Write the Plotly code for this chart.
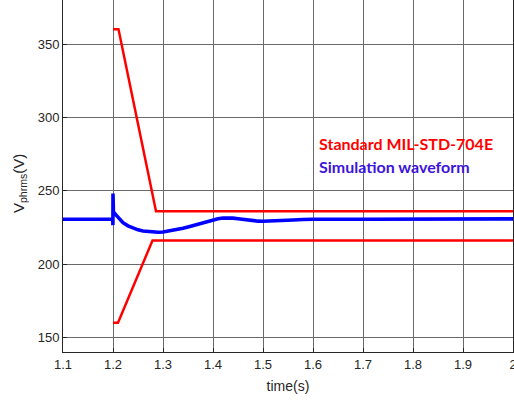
import plotly.graph_objects as go

# Standard MIL-STD-704E limits
upper_t = [1.2, 1.211, 1.286, 2.0]
upper_v = [360, 360, 236, 236]
lower_t = [1.2, 1.21, 1.279, 2.0]
lower_v = [160, 160, 216, 216]

# Simulation waveform
sim_t = [1.1, 1.1995, 1.1998, 1.2, 1.2002, 1.2004, 1.2008, 1.205, 1.21, 1.215, 1.22, 1.23,
         1.24, 1.25, 1.26, 1.27, 1.28, 1.29, 1.30, 1.31, 1.32, 1.33, 1.34, 1.35, 1.36,
         1.37, 1.38, 1.39, 1.40, 1.41, 1.42, 1.43, 1.44, 1.45, 1.46, 1.47, 1.48, 1.49,
         1.50, 1.52, 1.54, 1.56, 1.58, 1.60, 1.70, 1.80, 1.90, 2.0]
sim_v = [230.5, 230.5, 226.5, 248, 229, 236, 235.6, 233.8, 231.8, 229.8, 228.2, 226.0,
         224.4, 223.3, 222.5, 222.0, 221.7, 221.6, 221.8, 222.3, 222.9, 223.6, 224.4, 225.3, 226.3,
         227.3, 228.3, 229.3, 230.2, 230.9, 231.4, 231.5, 231.3, 230.9, 230.4, 229.9, 229.5, 229.2,
         229.1, 229.2, 229.6, 230.0, 230.3, 230.5, 230.5, 230.6, 230.7, 230.8]

x_ticks = [1.1, 1.2, 1.3, 1.4, 1.5, 1.6, 1.7, 1.8, 1.9, 2.0]
x_tick_text = ["1.1", "1.2", "1.3", "1.4", "1.5", "1.6", "1.7", "1.8", "1.9", "2"]
y_ticks = [150, 200, 250, 300, 350]

fig = go.Figure()
fig.add_trace(go.Scatter(x=upper_t, y=upper_v, mode="lines",
                         line=dict(color="#ff0000", width=2.5), showlegend=False))
fig.add_trace(go.Scatter(x=lower_t, y=lower_v, mode="lines",
                         line=dict(color="#ff0000", width=2.5), showlegend=False))
fig.add_trace(go.Scatter(x=sim_t, y=sim_v, mode="lines",
                         line=dict(color="#0000ff", width=3.6), showlegend=False))

fig.add_annotation(text="<b>Standard MIL-STD-704E</b>", x=(317 - 63) / 450, y=1 - 143 / 352,
                   xref="paper", yref="paper", xanchor="left", yanchor="middle", showarrow=False,
                   font=dict(family="Lato", size=16, color="#ff0000"))
fig.add_annotation(text="<b>Simulation waveform</b>", x=(317 - 63) / 450, y=1 - 167 / 352,
                   xref="paper", yref="paper", xanchor="left", yanchor="middle", showarrow=False,
                   font=dict(family="Lato", size=16, color="#3c14dc"))
# y-axis title
fig.add_annotation(text="V<sub>phrms</sub>(V)", x=(19 - 63) / 450, y=1 - 184 / 352,
                   xref="paper", yref="paper", xanchor="center", yanchor="middle", showarrow=False,
                   textangle=-90, font=dict(family="Liberation Sans", size=15, color="#262626"))

axis_common = dict(showgrid=True, gridcolor="#6a6a6a", gridwidth=1, showline=True,
                   linecolor="#262626", linewidth=1, mirror=True, zeroline=False,
                   ticks="inside", ticklen=4, tickcolor="#262626", automargin=False,
                   ticklabeloverflow="allow",
                   tickfont=dict(family="Liberation Sans", size=13, color="#262626"))

fig.update_xaxes(range=[1.1, 2.0], tickvals=x_ticks, ticktext=x_tick_text,
                 title=dict(text="time(s)", font=dict(family="Liberation Sans", size=14, color="#262626"),
                            standoff=10),
                 **axis_common)
fig.update_yaxes(range=[140, 380], tickvals=y_ticks, **axis_common)

fig.update_layout(width=514, height=400, margin=dict(l=63, r=1, t=0, b=48),
                  plot_bgcolor="white", paper_bgcolor="white")

fig.write_html("out.html", config={"displayModeBar": False},
               post_script="document.body.style.margin='0';")
